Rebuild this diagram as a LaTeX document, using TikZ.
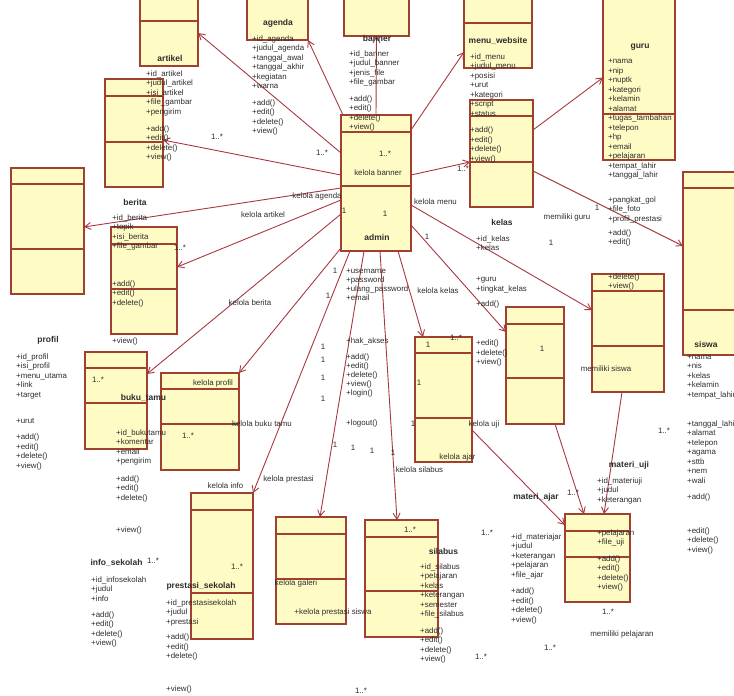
\documentclass[tikz,border=0pt]{standalone}
\usepackage{fontspec}
\setmainfont{Liberation Sans}
\usetikzlibrary{arrows.meta}
\definecolor{boxfill}{RGB}{254,251,196}
\definecolor{boxedge}{RGB}{160,64,48}
\definecolor{linkred}{RGB}{168,56,64}
\definecolor{umltext}{RGB}{45,45,45}
\newcommand{\attrfont}{\fontsize{7.9}{9.5}\selectfont}
\newcommand{\titlefont}{\bfseries\fontsize{8.5}{10}\selectfont}

\begin{document}
\begin{tikzpicture}[x=1pt, y=-1pt,
    >={Straight Barb[length=6pt,width=7pt]},
    classbox/.style={draw=boxedge, fill=boxfill, line width=1.2pt, inner sep=0pt, outer sep=0pt},
    divider/.style={draw=boxedge, line width=1.2pt},
    assoc/.style={->, draw=linkred, line width=0.9pt},
    attr/.style={anchor=north west, align=left, inner sep=0pt, font=\attrfont, text=umltext,
        execute at begin node={\rule{0pt}{6.5pt}}},
    classname/.style={inner sep=0pt, font=\titlefont, text=umltext},
    lbl/.style={inner sep=0pt, font=\attrfont, text=umltext}]
    \useasboundingbox (0,0) rectangle (734,696);
    \clip (0,0) rectangle (734,696);

    % Class boxes
    \foreach \n/\cx/\cy/\w/\h in {artikel/169/30.5/58/71, agenda/277.5/17.5/61/45,
        banner/376.5/15.5/65/41, menu/498/31.5/68/73, guru/639/77.5/72/165,
        berita/134/133/58/108, profil/47.5/231/73/126, admin/376/183/70/136,
        kelas/501.5/153.5/63/107, siswa/714/263.5/62/183, berita2/144/280.5/66/107,
        bukutamu/116/400.5/62/97, kprofil/200/421.5/78/97, kuji/535/365.5/58/117,
        msiswa/628/333/72/118, kajar/443.5/399.5/57/125, prestasi/222/566/62/146,
        galeri/311/570.5/70/107, silabus/401.5/578.5/73/117, materi/597.5/558/65/88}
        \node[classbox, minimum width=\w, minimum height=\h] (\n) at (\cx,\cy) {};

    % Compartment lines
    \foreach \n/\y in {artikel/21, menu/23, guru/114, berita/96, berita/142,
        profil/184, profil/249, admin/132, admin/186, kelas/116, kelas/162,
        siswa/188, siswa/310, berita2/244, berita2/289, bukutamu/368, bukutamu/403,
        kprofil/389, kprofil/424, kuji/324, kuji/378, msiswa/291, msiswa/346,
        kajar/353, kajar/418, prestasi/510, prestasi/593, galeri/534, galeri/579,
        silabus/537, silabus/591, materi/531, materi/557}
        \draw[divider] (\n.west |- 0,\y) -- (\n.east |- 0,\y);

    % Associations from admin
    \draw[assoc] ([yshift=30]admin.west) -- ([yshift=-2.5]artikel.east);
    \draw[assoc] ([yshift=8]admin.west) -- ([yshift=-7]berita.east);
    \draw[assoc] ([yshift=-5]admin.west) -- ([yshift=4]profil.east);
    \draw[assoc] ([yshift=-17]admin.west) -- ([yshift=13.5]berita2.east);
    \draw[assoc] ([yshift=-31]admin.west) -- ([yshift=26.5]bukutamu.east);
    \draw[assoc] ([yshift=3]admin.south west) -- (kprofil.north east);
    \draw[assoc] ([xshift=9]admin.south west) -- (prestasi.north east);
    \draw[assoc] ([xshift=23]admin.south west) -- ([xshift=9]galeri.north);
    \draw[assoc] ([xshift=39]admin.south west) -- ([xshift=-4.5]silabus.north);
    \draw[assoc] ([xshift=57]admin.south west) -- ([xshift=-20.5]kajar.north);
    \draw[assoc] ([yshift=-42]admin.east) -- ([yshift=33.5]kuji.west);
    \draw[assoc] ([yshift=-22]admin.east) -- ([yshift=23]msiswa.west);
    \draw[assoc] ([yshift=8]admin.east) -- ([yshift=-8.5]kelas.west);
    \draw[assoc] ([yshift=53]admin.east) -- ([yshift=-20.5]menu.west);
    \draw[assoc] (admin.north) -- (banner.south);
    \draw[assoc] ([xshift=2]admin.north west) -- (agenda.south east);

    % Other associations
    \draw[assoc] ([yshift=23.5]kelas.east) -- (guru.west);
    \draw[assoc] ([yshift=-17.5]kelas.east) -- ([yshift=17.5]siswa.west);
    \draw[assoc] ([xshift=-6]msiswa.south) -- ([xshift=6.5]materi.north);
    \draw[assoc] ([xshift=20]kuji.south) -- ([xshift=-13.5]materi.north);
    \draw[assoc] ([yshift=-30.5]kajar.east) -- ([yshift=33]materi.west);

    % Class names
    \node[classname] (t-artikel) at (170,58) {artikel};
    \node[classname] (t-agenda) at (278,23) {agenda};
    \node[classname] (t-banner) at (377,38) {banner};
    \node[classname] (t-menu) at (498,41) {menu\_website};
    \node[classname] (t-guru) at (640,47) {guru};
    \node[classname] (t-berita) at (135,202) {berita};
    \node[classname] (t-profil) at (48,340) {profil};
    \node[classname] (t-admin) at (377,237) {admin};
    \node[classname] (t-kelas) at (502,222.5) {kelas};
    \node[classname] (t-siswa) at (706,344) {siswa};
    \node[classname] (t-bukutamu) at (143.5,398) {buku\_tamu};
    \node[classname] (t-materiuji) at (629,465) {materi\_uji};
    \node[classname] (t-materiajar) at (536,497) {materi\_ajar};
    \node[classname] (t-silabus) at (443.5,551) {silabus};
    \node[classname] (t-info) at (116.5,563) {info\_sekolah};
    \node[classname] (t-prestasi) at (201,586) {prestasi\_sekolah};

    % Attributes and operations
    \node[attr] (a-artikel) at (146,70.4) {+id\_artikel\\+judul\_artikel\\+isi\_artikel\\+file\_gambar\\+pengirim\\[7.5pt]+add()\\+edit()\\+delete()\\+view()};
    \node[attr] (a-agenda) at (252,35.4) {+id\_agenda\\+judul\_agenda\\+tanggal\_awal\\+tanggal\_akhir\\+kegiatan\\+warna\\[7pt]+add()\\+edit()\\+delete()\\+view()};
    \node[attr] (a-banner) at (349,50.4) {+id\_banner\\+judul\_banner\\+jenis\_file\\+file\_gambar\\[7pt]+add()\\+edit()\\+delete()\\+view()};
    \node[attr] (a-menu) at (470,53.4) {+id\_menu\\+judul\_menu\\+posisi\\+urut\\+kategori\\+script\\+status\\[7pt]+add()\\+edit()\\+delete()\\+view()};
    \node[attr] (a-guru) at (608,59.1) {+nama\\+nip\\+nuptk\\+kategori\\+kelamin\\+alamat\\+tugas\_tambahan\\+telepon\\+hp\\+email\\+pelajaran\\+tempat\_lahir\\+tanggal\_lahir\\[14.8pt]+pangkat\_gol\\+file\_foto\\+profil\_prestasi\\[4.8pt]+add()\\+edit()};
    \node[attr] (a-kelas) at (476,235.4) {+id\_kelas\\+kelas\\[21.3pt]+guru\\+tingkat\_kelas\\[5.7pt]+add()\\[29.8pt]+edit()\\+delete()\\+view()};
    \node[attr, font=\fontsize{7.9}{9}\selectfont] (a-admin) at (346,268.9) {+username\\+password\\+ulang\_password\\+email\\[33.5pt]+hak\_akses\\[7pt]+add()\\+edit()\\+delete()\\+view()\\+login()\\[21pt]+logout()};
    \node[attr] (a-berita) at (112,214.1) {+id\_berita\\+topik\\+isi\_berita\\+file\_gambar\\[28pt]+add()\\+edit()\\+delete()\\[29.2pt]+view()};
    \node[attr] (a-profil) at (16,353.1) {+id\_profil\\+isi\_profil\\+menu\_utama\\+link\\+target\\[17pt]+urut\\[6.5pt]+add()\\+edit()\\+delete()\\+view()};
    \node[attr] (a-bukutamu) at (116,429.4) {+id\_bukutamu\\+komentar\\+email\\+pengirim\\[8pt]+add()\\+edit()\\+delete()\\[22.5pt]+view()};
    \node[attr] (a-info) at (91,576.4) {+id\_infosekolah\\+judul\\+info\\[6.5pt]+add()\\+edit()\\+delete()\\+view()};
    \node[attr] (a-prestasi) at (166,599.4) {+id\_prestasisekolah\\+judul\\+prestasi\\[6pt]+add()\\+edit()\\+delete()\\[23pt]+view()};
    \node[attr] (a-silabus) at (420,563.4) {+id\_silabus\\+pelajaran\\+kelas\\+keterangan\\+semester\\+file\_silabus\\[7pt]+add()\\+edit()\\+delete()\\+view()};
    \node[attr] (a-materiajar) at (511,533.4) {+id\_materiajar\\+judul\\+keterangan\\+pelajaran\\+file\_ajar\\[7pt]+add()\\+edit()\\+delete()\\+view()};
    \node[attr] (a-materiuji) at (597,477.4) {+id\_materiuji\\+judul\\+keterangan\\[23.5pt]+pelajaran\\+file\_uji\\[7pt]+add()\\+edit()\\+delete()\\+view()};
    \node[attr] (a-siswa) at (687,354.4) {+nama\\+nis\\+kelas\\+kelamin\\+tempat\_lahir\\[19.5pt]+tanggal\_lahir\\+alamat\\+telepon\\+agama\\+sttb\\+nem\\+wali\\[6.5pt]+add()\\[24.5pt]+edit()\\+delete()\\+view()};
    \node[attr] (a-msiswa) at (608,273.4) {+delete()\\+view()};

    % Association names
    \node[lbl] (n-banner) at (378,173) {kelola banner};
    \node[lbl] (n-agenda) at (317,196) {kelola agenda};
    \node[lbl] (n-artikel) at (263,215) {kelola artikel};
    \node[lbl] (n-menu) at (435.5,202) {kelola menu};
    \node[lbl] (n-guru) at (567,217) {memiliki guru};
    \node[lbl] (n-berita) at (250,303) {kelola berita};
    \node[lbl] (n-profil) at (213,383) {kelola profil};
    \node[lbl] (n-bukutamu) at (262,424) {kelola buku tamu};
    \node[lbl] (n-kelas) at (438,291) {kelola kelas};
    \node[lbl] (n-ajar) at (457.5,457) {kelola ajar};
    \node[lbl] (n-uji) at (484,424) {kelola uji};
    \node[lbl] (n-siswa) at (606,369) {memiliki siswa};
    \node[lbl] (n-silabus) at (419.5,470) {kelola silabus};
    \node[lbl] (n-prestasi) at (288.5,479) {kelola prestasi};
    \node[lbl] (n-info) at (225.5,486) {kelola info};
    \node[lbl] (n-galeri) at (296,583) {kelola galeri};
    \node[lbl] (n-prestasisiswa) at (333,612) {+kelola prestasi siswa};
    \node[lbl] (n-pelajaran) at (622,634) {memiliki pelajaran};

    % Multiplicities
    \foreach \x/\y [count=\i] in {217/137, 322/153, 385/154, 463/169, 180/248, 98/380,
        188/436, 456/338, 664/431, 573/493, 487/533, 153/561, 237/567, 410/530,
        608/612, 550/648, 481/657, 361/691}
        \node[lbl] (many\i) at (\x,\y) {1..*};
    \foreach \x/\y [count=\i] in {344/211, 385/214, 427/237, 551/243, 597/208,
        335/271, 328/296, 323/347, 323/360, 323/378, 323/399, 335/445, 353/448,
        372/451, 393/453, 428/345, 419/383, 413/424, 542/349}
        \node[lbl] (one\i) at (\x,\y) {1};
\end{tikzpicture}
\end{document}
